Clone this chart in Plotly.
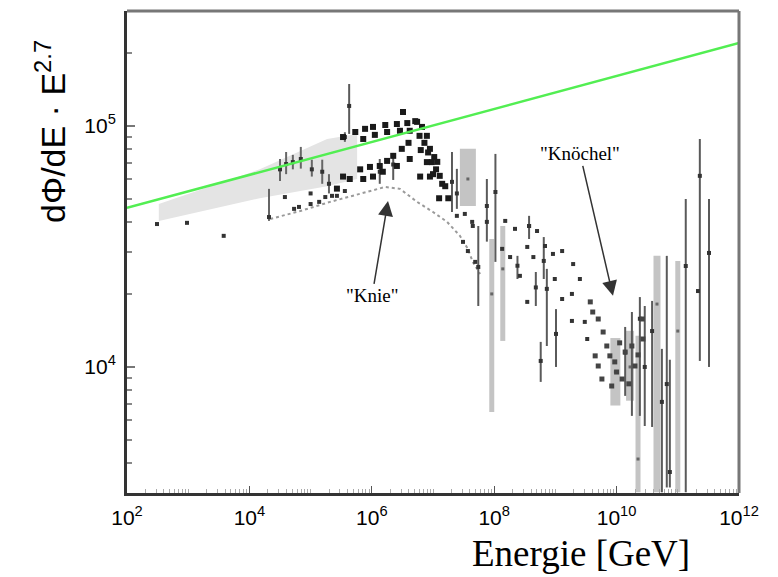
import plotly.graph_objects as go

# ---------------- data (log10 values) ----------------
# shaded band of direct measurements
band_logE = [2.52, 4.17, 5.27, 5.76, 5.76, 5.27, 4.17, 2.52]
band_logF = [4.676, 4.82, 4.946, 4.967, 4.78, 4.75, 4.70, 4.606]

# green reference line
green_logE = [2.0, 12.0]
green_logF = [4.660, 5.344]

# direct measurements (points with error bars: centre, low, high)
direct_logE = [2.49, 2.98, 3.58, 4.32, 4.50, 4.60, 4.71, 4.84, 5.02, 5.19, 5.30, 5.56,
               4.58, 4.73, 4.81, 5.00, 5.00, 5.14, 5.24, 5.35, 5.43, 5.56]
direct_logF = [4.593, 4.598, 4.544, 4.622, 4.82, 4.842, 4.85, 4.863, 4.82, 4.81, 4.76, 4.954,
               4.705, 4.656, 4.664, 4.72, 4.676, 4.685, 4.705, 4.71, 4.71, 4.73]
direct_lo = [4.593, 4.598, 4.544, 4.606, 4.772, 4.80, 4.82, 4.823, 4.79, 4.76, 4.72, 4.934,
             4.705, 4.656, 4.664, 4.72, 4.676, 4.685, 4.705, 4.71, 4.71, 4.73]
direct_hi = [4.593, 4.598, 4.544, 4.739, 4.863, 4.892, 4.88, 4.913, 4.86, 4.86, 4.80, 4.974,
             4.705, 4.656, 4.664, 4.72, 4.676, 4.685, 4.705, 4.71, 4.71, 4.73]

# dense "arch" of air-shower data near the knee
arch_logE = [5.53, 5.73, 5.89, 6.02, 6.22, 6.41, 6.58, 6.74, 6.82, 6.90, 6.95, 7.02, 7.07, 7.11,
             5.86, 6.05, 6.25, 6.46, 6.62, 6.78, 6.86, 6.92, 6.98, 7.05, 7.15,
             6.51, 6.71,
             5.97, 6.13, 6.25, 6.35, 6.49, 5.81, 5.64, 5.53, 5.43, 5.86, 6.02, 6.18, 6.41,
             6.62, 6.79, 6.95, 6.60, 6.80, 7.00, 7.20, 7.25, 7.10, 6.90]
arch_logF = [4.954, 4.975, 4.988, 4.996, 5.004, 5.008, 5.012, 5.017, 4.996, 4.959, 4.905, 4.871, 4.851, 4.793,
             4.946, 4.963, 4.975, 4.98, 4.98, 4.959, 4.93, 4.89, 4.85, 4.82, 4.76,
             5.058, 5.02,
             4.83, 4.834, 4.855, 4.876, 4.905, 4.82, 4.78, 4.79, 4.74, 4.78, 4.79, 4.81, 4.834,
             4.863, 4.79, 4.79, 4.93, 4.90, 4.80, 4.75, 4.70, 4.70, 4.85]

# thin dotted curve through the knee
knee_logE = [4.34, 4.83, 5.32, 5.73, 6.05, 6.22, 6.46, 6.74, 7.00, 7.23, 7.44, 7.57, 7.65, 7.77]
knee_logF = [4.614, 4.647, 4.685, 4.714, 4.734, 4.747, 4.739, 4.685, 4.643, 4.602, 4.544, 4.49, 4.436, 4.386]

# air-shower points with error bars (centre, low, high)
shower_logE = [5.63, 6.13, 6.35, 7.31, 7.39, 7.74, 7.88, 8.02, 8.38, 8.57, 8.68, 8.76, 8.81,
               8.86, 9.01, 10.14, 10.25, 10.38, 10.46, 10.58, 10.74, 10.82, 10.87, 11.13,
               11.36, 11.51]
shower_logF = [5.083, 4.81, 4.84, 4.768, 4.72, 4.415, 4.668, 4.726, 4.42, 4.585, 4.33, 4.025, 4.44,
               4.324, 4.137, 4.06, 4.087, 4.20, 4.00, 4.149, 3.855, 3.929, 3.564, 4.419,
               4.793, 4.473]
shower_lo = [4.967, 4.76, 4.776, 4.643, 4.656, 4.253, 4.52, 4.436, 4.365, 4.531, 4.253, 3.938, 4.365,
             4.087, 4.00, 3.88, 3.797, 3.797, 3.755, 3.751, 3.48, 3.50, 3.50, 3.48,
             4.025, 4.00]
shower_hi = [5.174, 4.863, 4.888, 4.892, 4.822, 4.585, 4.78, 4.884, 4.461, 4.627, 4.394, 4.104, 4.539,
             4.407, 4.24, 4.166, 4.228, 4.29, 4.253, 4.274, 4.075, 4.461, 4.03, 4.697,
             4.946, 4.697]

# scattered points between knee and ankle
mid_logE = [8.18, 8.34, 8.57, 8.70, 8.54, 8.64, 8.83, 8.96, 9.11, 8.99, 9.29, 9.40, 9.27, 9.11,
            8.54, 8.42, 8.26, 8.13, 7.88, 7.64, 7.52, 7.39, 7.65, 7.57, 7.69, 7.49, 9.52, 9.27, 9.48,
            11.33]
mid_logF = [4.606, 4.573, 4.585, 4.564, 4.498, 4.456, 4.502, 4.469, 4.481, 4.365, 4.427, 4.365, 4.303, 4.282,
            4.27, 4.378, 4.456, 4.49, 4.602, 4.602, 4.635, 4.627, 4.585, 4.481, 4.436, 4.519, 4.116, 4.191, 4.187,
            4.315]

# dense points around the ankle
ankle_logE = [9.57, 9.61, 9.70, 9.78, 9.84, 9.65, 9.70, 9.76, 9.89, 9.97, 10.00, 9.92, 10.09,
              10.14, 10.25, 10.30, 10.42, 10.43, 10.20, 10.35, 10.05]
ankle_logF = [4.27, 4.228, 4.199, 4.145, 4.087, 4.046, 4.004, 3.95, 4.046, 4.021, 3.979, 3.921, 3.95,
              4.062, 4.087, 4.004, 4.199, 4.116, 3.93, 4.05, 4.10]

# wide light-grey error boxes (centre, low, high)
box_logE = [7.57, 7.96, 8.14, 9.98, 10.22, 10.35, 10.66, 11.00]
box_logF = [4.78, 4.303, 4.407, 3.98, 4.00, 3.618, 4.261, 4.149]
box_lo = [4.668, 3.813, 4.108, 3.84, 3.86, 3.48, 3.48, 3.48]
box_hi = [4.905, 4.531, 4.585, 4.12, 4.15, 4.129, 4.461, 4.44]
box_width = [16, 5, 5, 10, 8, 5, 7, 5]

# axis tick labels
x_tick_exp = [2, 4, 6, 8, 10, 12]
y_tick_exp = [4, 5]


def p(v):
    return [10 ** a for a in v]


def errs(c, lo, hi):
    cc = p(c)
    return ([10 ** h - x for h, x in zip(hi, cc)], [x - 10 ** l for l, x in zip(lo, cc)])


fig = go.Figure()

fig.add_trace(go.Scatter(x=p(band_logE), y=p(band_logF), mode="lines", fill="toself",
                         fillcolor="#e4e4e4", line=dict(width=0), hoverinfo="skip"))

# light grey boxes, one trace per width
for e, f, lo, hi, w in zip(box_logE, box_logF, box_lo, box_hi, box_width):
    up, dn = errs([f], [lo], [hi])
    fig.add_trace(go.Scatter(x=p([e]), y=p([f]), mode="markers",
                             marker=dict(size=3, color="#666", symbol="square"),
                             error_y=dict(type="data", symmetric=False, array=up, arrayminus=dn,
                                          color="#c4c4c4", thickness=w, width=0)))

fig.add_trace(go.Scatter(x=p(knee_logE), y=p(knee_logF), mode="lines",
                         line=dict(color="#9a9a9a", width=2, dash="dot")))

up, dn = errs(direct_logF, direct_lo, direct_hi)
fig.add_trace(go.Scatter(x=p(direct_logE), y=p(direct_logF), mode="markers",
                         marker=dict(size=4, color="#333", symbol="square"),
                         error_y=dict(type="data", symmetric=False, array=up, arrayminus=dn,
                                      color="#666", thickness=2, width=0)))

up, dn = errs(shower_logF, shower_lo, shower_hi)
fig.add_trace(go.Scatter(x=p(shower_logE), y=p(shower_logF), mode="markers",
                         marker=dict(size=4, color="#333", symbol="square"),
                         error_y=dict(type="data", symmetric=False, array=up, arrayminus=dn,
                                      color="#5a5a5a", thickness=2, width=0)))

fig.add_trace(go.Scatter(x=p(mid_logE), y=p(mid_logF), mode="markers",
                         marker=dict(size=4, color="#333", symbol="square")))
fig.add_trace(go.Scatter(x=p(ankle_logE), y=p(ankle_logF), mode="markers",
                         marker=dict(size=5, color="#444", symbol="square")))
fig.add_trace(go.Scatter(x=p(arch_logE), y=p(arch_logF), mode="markers",
                         marker=dict(size=6, color="#1a1a1a", symbol="square")))

fig.add_trace(go.Scatter(x=p(green_logE), y=p(green_logF), mode="lines",
                         line=dict(color="#52ee52", width=2.5)))

axis_font = dict(family="Liberation Sans, Arial, sans-serif", size=21, color="black")

fig.update_layout(
    width=778, height=577,
    margin=dict(l=127, r=39, t=11, b=84),
    paper_bgcolor="white", plot_bgcolor="white",
    showlegend=False,
    xaxis=dict(type="log", range=[2, 12], showgrid=False, zeroline=False,
               showline=True, linecolor="#333", linewidth=3,
               ticks="inside", ticklen=7, tickcolor="#555", tickwidth=1,
               tickmode="array", tickvals=[10 ** k for k in x_tick_exp],
               ticktext=["10<sup>%d</sup>" % k for k in x_tick_exp],
               tickfont=axis_font, ticklabelstandoff=4,
               minor=dict(ticks="inside", ticklen=4, tickcolor="#aaa", dtick="D1")),
    yaxis=dict(type="log", range=[3.477, 5.477], showgrid=False, zeroline=False,
               showline=True, linecolor="#333", linewidth=3,
               ticks="inside", ticklen=8, tickcolor="#777", tickwidth=2,
               tickmode="array", tickvals=[10 ** k for k in y_tick_exp],
               ticktext=["10<sup>%d</sup>" % k for k in y_tick_exp],
               tickfont=axis_font, ticklabelstandoff=4,
               minor=dict(ticks="inside", ticklen=5, tickcolor="#888", dtick="D1")),
    shapes=[
        dict(type="line", xref="paper", yref="paper", x0=0, x1=1, y0=1, y1=1,
             line=dict(color="#777", width=3)),
        dict(type="line", xref="paper", yref="paper", x0=1, x1=1, y0=0, y1=1,
             line=dict(color="#777", width=3)),
    ],
    annotations=[
        dict(text="Energie [GeV]", xref="paper", yref="paper", x=0.742, y=-0.125,
             xanchor="center", yanchor="middle", borderpad=0,
             showarrow=False, font=dict(family="Liberation Serif, Times New Roman, serif",
                                        size=37, color="black")),
        dict(text="dΦ/dE · E<sup>2.7</sup>", xref="paper", yref="paper", x=-0.126, y=0.751,
             xanchor="center", yanchor="middle",
             textangle=-90, showarrow=False,
             font=dict(family="Liberation Sans, Arial, sans-serif", size=34, color="black")),
        dict(text="\"Knie\"", x=6.265, y=4.689, xref="x", yref="y",
             ax=-16, ay=95, showarrow=True, arrowhead=2, arrowsize=2, arrowwidth=1.5,
             arrowcolor="#333", font=dict(family="Liberation Serif, serif", size=19, color="black")),
        dict(text="\"Knöchel\"", x=9.941, y=4.295, xref="x", yref="y",
             ax=-33, ay=-142, showarrow=True, arrowhead=2, arrowsize=2, arrowwidth=1.5,
             arrowcolor="#333", font=dict(family="Liberation Serif, serif", size=19, color="black")),
    ],
)

fig.write_html("out.html")
